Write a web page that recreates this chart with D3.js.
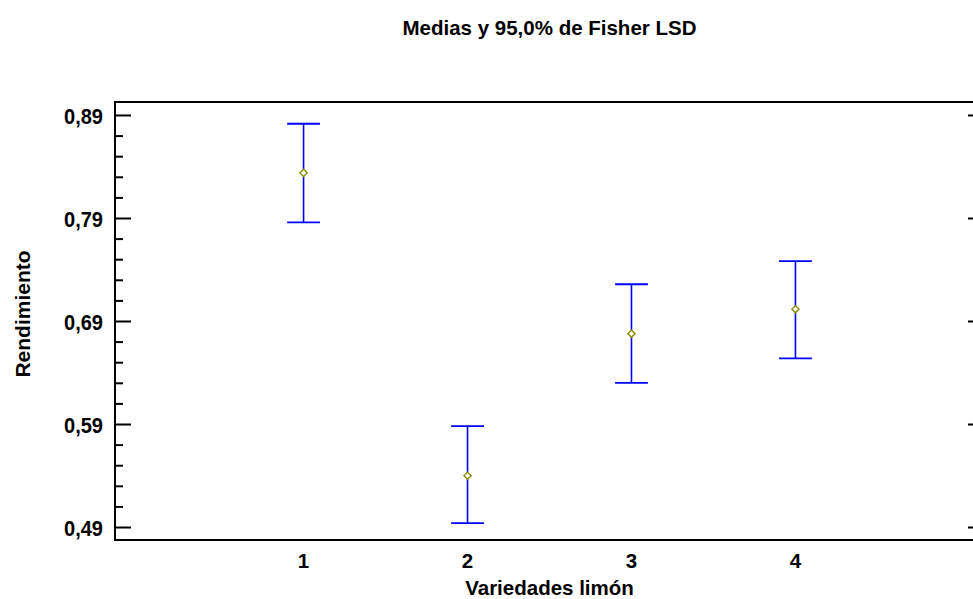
<!DOCTYPE html>
<html>
<head>
<meta charset="utf-8">
<script src="https://cdn.jsdelivr.net/npm/d3@7"></script>
<style>
  body { margin: 0; background: #fff; }
  text { font-family: "Liberation Sans", Arial, sans-serif; font-weight: bold; fill: #000; }
</style>
</head>
<body>
<div id="chart"></div>
<script>
// Fisher LSD intervals
var categories = [1, 2, 3, 4];
var means = [0.8338, 0.5398, 0.6777, 0.7014];
var lower = [0.7858, 0.4937, 0.6300, 0.6537];
var upper = [0.8815, 0.5879, 0.7257, 0.7481];
var yTicks = [0.49, 0.59, 0.69, 0.79, 0.89];
var yMinor = [0.51, 0.53, 0.55, 0.57, 0.61, 0.63, 0.65, 0.67, 0.71, 0.73, 0.75, 0.77, 0.81, 0.83, 0.85, 0.87];

var width = 973, height = 599;
var plotLeft = 115, plotRight = 984, plotTop = 102, plotBottom = 540;

var locale = d3.formatLocale({ decimal: ",", thousands: ".", grouping: [3], currency: ["", ""] });
var fmt = locale.format(".2f");

var x = d3.scaleLinear().domain([-0.15, 5.15]).range([plotLeft, plotRight]);
var y = d3.scaleLinear().domain([0.4774, 0.9026]).range([plotBottom, plotTop]);

var svg = d3.select("#chart")
  .append("svg")
  .attr("width", width)
  .attr("height", height);

// frame
svg.append("rect")
  .attr("x", plotLeft)
  .attr("y", plotTop)
  .attr("width", plotRight - plotLeft)
  .attr("height", plotBottom - plotTop)
  .attr("fill", "none")
  .attr("stroke", "#000")
  .attr("stroke-width", 2);

// left axis, ticks pointing inward
var yAxis = svg.append("g")
  .attr("transform", "translate(" + plotLeft + ",0)")
  .call(d3.axisRight(y).tickValues(yTicks).tickSize(16).tickFormat(""));
yAxis.select(".domain").remove();
yAxis.selectAll("line").attr("stroke", "#000").attr("stroke-width", 2);

var yAxisMinor = svg.append("g")
  .attr("transform", "translate(" + plotLeft + ",0)")
  .call(d3.axisRight(y).tickValues(yMinor).tickSize(8).tickFormat(""));
yAxisMinor.select(".domain").remove();
yAxisMinor.selectAll("line").attr("stroke", "#000").attr("stroke-width", 2);

// right axis, major ticks only
var yAxisR = svg.append("g")
  .attr("transform", "translate(" + plotRight + ",0)")
  .call(d3.axisLeft(y).tickValues(yTicks).tickSize(16).tickFormat(""));
yAxisR.select(".domain").remove();
yAxisR.selectAll("line").attr("stroke", "#000").attr("stroke-width", 2);

// y tick labels (slightly condensed, like the original)
svg.append("g")
  .selectAll("text")
  .data(yTicks)
  .join("text")
  .attr("x", plotLeft - 12)
  .attr("y", function(d) { return y(d) + 1; })
  .attr("dy", "0.36em")
  .attr("text-anchor", "end")
  .attr("textLength", 39)
  .attr("lengthAdjust", "spacingAndGlyphs")
  .style("font-size", "22px")
  .text(function(d) { return fmt(d); });

// x tick labels
svg.append("g")
  .selectAll("text")
  .data(categories)
  .join("text")
  .attr("x", function(d) { return x(d); })
  .attr("y", 568)
  .attr("text-anchor", "middle")
  .style("font-size", "20.5px")
  .text(function(d) { return d; });

// error bars
var bars = svg.append("g")
  .selectAll("g")
  .data(categories)
  .join("g");

bars.append("line")
  .attr("x1", function(d) { return x(d); })
  .attr("x2", function(d) { return x(d); })
  .attr("y1", function(d, i) { return y(lower[i]); })
  .attr("y2", function(d, i) { return y(upper[i]); })
  .attr("stroke", "#0000ff")
  .attr("stroke-width", 1.6);

var capHalf = 16.4;
[lower, upper].forEach(function(arr) {
  bars.append("line")
    .attr("x1", function(d) { return x(d) - capHalf; })
    .attr("x2", function(d) { return x(d) + capHalf; })
    .attr("y1", function(d, i) { return y(arr[i]); })
    .attr("y2", function(d, i) { return y(arr[i]); })
    .attr("stroke", "#0000ff")
    .attr("stroke-width", 1.8);
});

// mean markers (hollow diamonds)
bars.append("path")
  .attr("d", function(d, i) {
    var cx = x(d), cy = y(means[i]), r = 3.6;
    return "M" + cx + "," + (cy - r) + "L" + (cx + r) + "," + cy +
      "L" + cx + "," + (cy + r) + "L" + (cx - r) + "," + cy + "Z";
  })
  .attr("fill", "#fff")
  .attr("stroke", "#8c8c00")
  .attr("stroke-width", 1.4);

// titles
svg.append("text")
  .attr("x", (plotLeft + plotRight) / 2)
  .attr("y", 35)
  .attr("text-anchor", "middle")
  .style("font-size", "20.5px")
  .text("Medias y 95,0% de Fisher LSD");

svg.append("text")
  .attr("x", (plotLeft + plotRight) / 2)
  .attr("y", 595)
  .attr("text-anchor", "middle")
  .style("font-size", "20.5px")
  .text("Variedades limón");

svg.append("text")
  .attr("transform", "translate(30," + ((plotTop + plotBottom) / 2 - 7) + ") rotate(-90)")
  .attr("text-anchor", "middle")
  .style("font-size", "21px")
  .text("Rendimiento");
</script>
</body>
</html>
